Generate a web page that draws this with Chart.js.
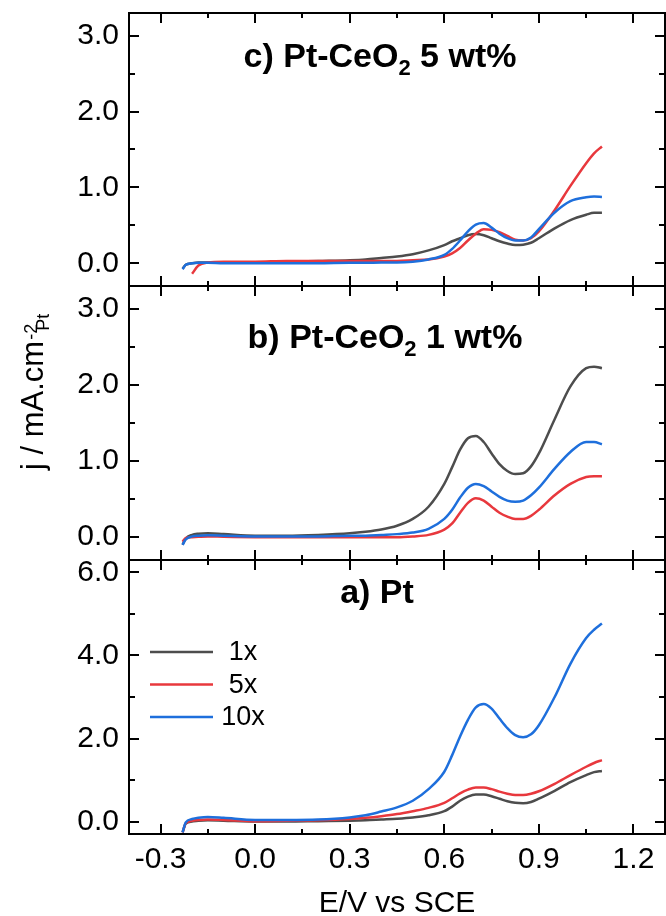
<!DOCTYPE html>
<html>
<head>
<meta charset="utf-8">
<script src="https://cdn.jsdelivr.net/npm/chart.js@4"></script>
<style>
  body { margin: 0; background: #fff; width: 666px; height: 916px; overflow: hidden; position: relative; }
  canvas { position: absolute; left: 0; }
</style>
</head>
<body>
<canvas id="panelC" width="666" height="290" style="top:0px"></canvas>
<canvas id="panelB" width="666" height="282" style="top:282px"></canvas>
<canvas id="panelA" width="666" height="366" style="top:556px"></canvas>
<script>
// potential grid (V vs SCE)
const potential = [-0.23, -0.22, -0.2, -0.18, -0.15, -0.1, 0.0, 0.1, 0.2, 0.3, 0.35, 0.4, 0.45, 0.5, 0.55, 0.6,
  0.625, 0.65, 0.675, 0.7, 0.725, 0.75, 0.775, 0.8, 0.825, 0.85, 0.875, 0.9, 0.95, 1.0, 1.05, 1.075, 1.1];

// c) Pt-CeO2 5 wt%
const c_1x  = [-0.07, -0.02, 0.0, 0.01, 0.01, 0.01, 0.01, 0.02, 0.03, 0.04, 0.05, 0.07, 0.09, 0.12, 0.17, 0.24,
  0.29, 0.33, 0.37, 0.385, 0.37, 0.33, 0.29, 0.26, 0.24, 0.245, 0.27, 0.33, 0.46, 0.57, 0.64, 0.665, 0.665];
const c_5x  = [null, null, -0.14, -0.03, 0.01, 0.02, 0.02, 0.03, 0.03, 0.03, 0.03, 0.03, 0.03, 0.04, 0.05, 0.09,
  0.13, 0.2, 0.3, 0.39, 0.45, 0.44, 0.41, 0.36, 0.31, 0.30, 0.33, 0.42, 0.70, 1.02, 1.32, 1.45, 1.54];
const c_10x = [-0.08, -0.02, 0.0, 0.005, 0.005, 0.0, 0.0, 0.0, 0.0, 0.005, 0.005, 0.01, 0.01, 0.02, 0.05, 0.11,
  0.19, 0.30, 0.42, 0.51, 0.53, 0.47, 0.39, 0.33, 0.30, 0.30, 0.34, 0.45, 0.67, 0.82, 0.87, 0.88, 0.875];

// b) Pt-CeO2 1 wt%
const b_1x  = [-0.10, -0.02, 0.03, 0.045, 0.05, 0.04, 0.02, 0.02, 0.03, 0.05, 0.07, 0.10, 0.15, 0.24, 0.40, 0.70,
  0.92, 1.15, 1.30, 1.33, 1.25, 1.10, 0.96, 0.87, 0.83, 0.84, 0.93, 1.10, 1.55, 1.98, 2.22, 2.24, 2.22];
const b_5x  = [-0.06, -0.01, 0.0, 0.005, 0.01, 0.005, 0.0, 0.0, 0.0, 0.0, 0.0, 0.0, 0.0, 0.01, 0.03, 0.10,
  0.18, 0.32, 0.45, 0.51, 0.48, 0.40, 0.32, 0.27, 0.24, 0.24, 0.28, 0.36, 0.55, 0.70, 0.79, 0.80, 0.80];
const b_10x = [-0.10, -0.03, 0.01, 0.02, 0.025, 0.02, 0.01, 0.01, 0.01, 0.02, 0.02, 0.03, 0.04, 0.06, 0.11, 0.24,
  0.36, 0.52, 0.65, 0.70, 0.67, 0.60, 0.53, 0.48, 0.465, 0.48, 0.55, 0.65, 0.90, 1.12, 1.25, 1.25, 1.22];

// a) Pt
const a_1x  = [-0.26, -0.05, 0.0, 0.02, 0.03, 0.02, 0.0, 0.0, 0.01, 0.02, 0.03, 0.05, 0.07, 0.10, 0.15, 0.25,
  0.36, 0.50, 0.60, 0.65, 0.65, 0.61, 0.55, 0.49, 0.45, 0.44, 0.47, 0.55, 0.74, 0.95, 1.12, 1.19, 1.22];
const a_5x  = [-0.26, -0.04, 0.02, 0.04, 0.05, 0.04, 0.01, 0.02, 0.03, 0.06, 0.09, 0.13, 0.18, 0.25, 0.33, 0.45,
  0.56, 0.68, 0.77, 0.82, 0.82, 0.78, 0.72, 0.67, 0.64, 0.64, 0.67, 0.73, 0.91, 1.12, 1.32, 1.41, 1.48];
const a_10x = [-0.26, -0.02, 0.06, 0.09, 0.11, 0.09, 0.04, 0.04, 0.05, 0.10, 0.15, 0.24, 0.34, 0.50, 0.78, 1.20,
  1.60, 2.05, 2.45, 2.75, 2.83, 2.72, 2.48, 2.25, 2.08, 2.03, 2.10, 2.32, 3.0, 3.80, 4.42, 4.62, 4.77];

const seriesNames = ['1x', '5x', '10x'];
const seriesColors = ['#4d4d4d', '#e8383d', '#1e6fdc'];
const xTicks = [-0.3, 0.0, 0.3, 0.6, 0.9, 1.2];
const yTicksSmall = [0.0, 1.0, 2.0, 3.0];
const yTicksBig = [0.0, 2.0, 4.0, 6.0];

Chart.defaults.font.family = "'Liberation Sans', Arial, sans-serif";
Chart.defaults.color = '#000';

// frame + inward ticks on all four sides
const framePlugin = {
  id: 'frame',
  afterDraw(chart) {
    const { ctx, chartArea: a, scales: { x, y } } = chart;
    ctx.save();
    ctx.strokeStyle = '#000';
    ctx.lineWidth = 2;
    ctx.beginPath();
    ctx.rect(a.left, a.top, a.right - a.left, a.bottom - a.top);
    for (let k = -2; k <= 8; k++) {
      const px = Math.round(x.getPixelForValue(k * 0.15));
      const len = k % 2 === 0 ? 10 : 5;
      ctx.moveTo(px, a.bottom); ctx.lineTo(px, a.bottom - len);
      ctx.moveTo(px, a.top); ctx.lineTo(px, a.top + len);
    }
    const yt = y.ticks.map(t => t.value);
    const marks = [];
    yt.forEach((v, i) => {
      marks.push([v, 10]);
      if (i > 0) marks.push([(v + yt[i - 1]) / 2, 6]);
    });
    marks.forEach(([v, len]) => {
      const py = Math.round(y.getPixelForValue(v));
      ctx.moveTo(a.left, py); ctx.lineTo(a.left + len, py);
      ctx.moveTo(a.right, py); ctx.lineTo(a.right - len, py);
    });
    ctx.stroke();
    ctx.restore();
  }
};

// bold panel title with subscript
const titlePlugin = {
  id: 'panelTitle',
  afterDraw(chart, args, opts) {
    const ctx = chart.ctx;
    const big = "bold 34px 'Liberation Sans', Arial, sans-serif";
    const small = "bold 22px 'Liberation Sans', Arial, sans-serif";
    ctx.save();
    ctx.fillStyle = '#000';
    ctx.textBaseline = 'alphabetic';
    ctx.font = big;
    const w1 = ctx.measureText(opts.pre).width;
    const w3 = opts.post ? ctx.measureText(opts.post).width : 0;
    ctx.font = small;
    const w2 = opts.sub ? ctx.measureText(opts.sub).width : 0;
    let x = opts.cx - (w1 + w2 + w3) / 2;
    ctx.font = big;
    ctx.fillText(opts.pre, x, opts.by);
    x += w1;
    if (opts.sub) {
      ctx.font = small;
      ctx.fillText(opts.sub, x, opts.by + 8);
      x += w2;
      ctx.font = big;
      ctx.fillText(opts.post, x, opts.by);
    }
    ctx.restore();
  }
};

// rotated y title: j / mA.cm^-2_Pt  (bx = baseline x, sy = screen y where text starts)
const yTitlePlugin = {
  id: 'yTitle',
  afterDraw(chart, args, opts) {
    if (!opts.show) return;
    const ctx = chart.ctx;
    const main = "31px 'Liberation Sans', Arial, sans-serif";
    const small = "18px 'Liberation Sans', Arial, sans-serif";
    ctx.save();
    ctx.fillStyle = '#000';
    ctx.translate(opts.bx, opts.sy);
    ctx.rotate(-Math.PI / 2);
    ctx.font = main;
    const t = 'j / mA.cm';
    const w1 = ctx.measureText(t).width;
    ctx.fillText(t, 0, 0);
    ctx.font = small;
    ctx.fillText('-2', w1 + 1, -6);
    ctx.fillText('Pt', w1 + 10, 6);
    ctx.restore();
  }
};

// legend in panel a
const legendPlugin = {
  id: 'sampleLegend',
  afterDraw(chart, args, opts) {
    if (!opts.show) return;
    const ctx = chart.ctx;
    ctx.save();
    ctx.font = "27px 'Liberation Sans', Arial, sans-serif";
    ctx.textAlign = 'center';
    ctx.textBaseline = 'middle';
    chart.data.datasets.slice().reverse().forEach((ds, i) => {
      const yy = opts.y0 + i * opts.dy;
      ctx.strokeStyle = ds.borderColor;
      ctx.lineWidth = 2.5;
      ctx.beginPath();
      ctx.moveTo(150, yy); ctx.lineTo(213, yy);
      ctx.stroke();
      ctx.fillStyle = '#000';
      ctx.fillText(ds.label, 243, yy + 1);
    });
    ctx.restore();
  }
};

function makePanel(id, series, yMin, yMax, yTicks, opt) {
  // datasets listed 10x, 5x, 1x so 10x is drawn on top
  const datasets = [2, 1, 0].map(i => ({
    label: seriesNames[i],
    data: potential.map((p, k) => ({ x: p, y: series[i][k] })),
    borderColor: seriesColors[i],
    borderWidth: 2.5,
    pointRadius: 0,
    cubicInterpolationMode: 'monotone',
    fill: false
  }));
  return new Chart(document.getElementById(id), {
    type: 'line',
    data: { datasets },
    options: {
      responsive: false,
      animation: false,
      devicePixelRatio: 1,
      layout: { padding: { top: opt.padTop, right: 1, left: 0, bottom: 0 } },
      plugins: {
        legend: { display: false },
        tooltip: { enabled: false },
        panelTitle: opt.title,
        yTitle: opt.yTitle || { show: false },
        sampleLegend: opt.legend || { show: false }
      },
      scales: {
        x: {
          type: 'linear',
          min: -0.4,
          max: 1.3,
          afterBuildTicks: s => { s.ticks = xTicks.map(v => ({ value: v })); },
          afterFit: s => {
            s.height = opt.xHeight;
            s.paddingLeft = 0; s.paddingRight = 0; s.paddingTop = 0; s.paddingBottom = 0;
          },
          grid: { display: false, drawTicks: false },
          border: { display: false },
          ticks: {
            display: opt.xLabels,
            padding: 8,
            font: { size: 30 },
            callback: v => v.toFixed(1)
          },
          title: {
            display: opt.xLabels,
            text: 'E/V vs SCE',
            font: { size: 30 },
            padding: { top: 9, bottom: 0 }
          }
        },
        y: {
          type: 'linear',
          min: yMin,
          max: yMax,
          afterBuildTicks: s => { s.ticks = yTicks.map(v => ({ value: v })); },
          afterFit: s => {
            s.width = 129;
            s.paddingLeft = 0; s.paddingRight = 0; s.paddingTop = 0; s.paddingBottom = 0;
          },
          grid: { display: false, drawTicks: false },
          border: { display: false },
          ticks: {
            padding: 10,
            font: { size: 30 },
            callback: v => v.toFixed(1)
          }
        }
      }
    },
    plugins: [framePlugin, titlePlugin, yTitlePlugin, legendPlugin]
  });
}

makePanel('panelC', [c_1x, c_5x, c_10x], -0.3, 3.3, yTicksSmall, {
  padTop: 13, xHeight: 4, xLabels: false,
  title: { pre: 'c) Pt-CeO', sub: '2', post: ' 5 wt%', cx: 380, by: 67 }
});
makePanel('panelB', [b_1x, b_5x, b_10x], -0.3, 3.3, yTicksSmall, {
  padTop: 4, xHeight: 4, xLabels: false,
  title: { pre: 'b) Pt-CeO', sub: '2', post: ' 1 wt%', cx: 385, by: 66 },
  yTitle: { show: true, bx: 43, sy: 188 }
});
makePanel('panelA', [a_1x, a_5x, a_10x], -0.3, 6.3, yTicksBig, {
  padTop: 4, xHeight: 88, xLabels: true,
  title: { pre: 'a) Pt', cx: 377, by: 47 },
  legend: { show: true, y0: 96, dy: 32.5 }
});
</script>
</body>
</html>
